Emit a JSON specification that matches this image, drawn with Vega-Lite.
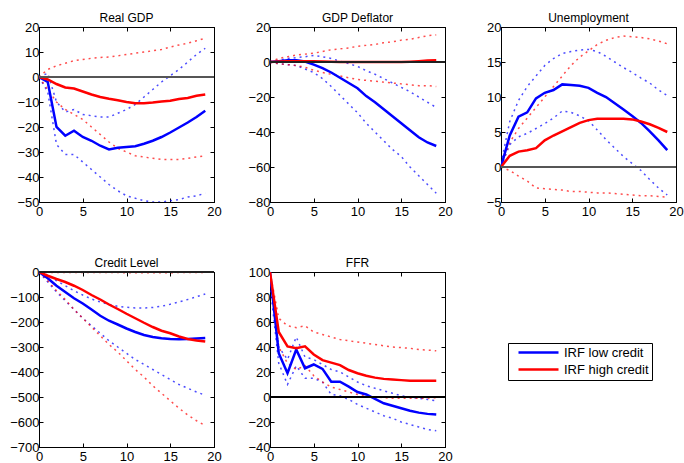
{
  "$schema": "https://vega.github.io/schema/vega-lite/v6.json",
  "background": "white",
  "padding": {"left": 9, "top": 11, "right": 5, "bottom": 0},
  "bounds": "flush",
  "columns": 3,
  "spacing": {"row": 70, "column": 56},
  "datasets": {
    "gdp": [
      {"h": 0, "IRF low credit": 0, "IRF high credit": 0, "low_lb": 0, "low_ub": 0, "high_lb": 0, "high_ub": 0},
      {"h": 1, "IRF low credit": -2, "IRF high credit": -1, "low_lb": -6, "low_ub": 1.5, "high_lb": -5, "high_ub": 3},
      {"h": 2, "IRF low credit": -20, "IRF high credit": -2.8, "low_lb": -27, "low_ub": -10, "high_lb": -10, "high_ub": 4.5},
      {"h": 3, "IRF low credit": -23.5, "IRF high credit": -4.2, "low_lb": -31, "low_ub": -14, "high_lb": -13, "high_ub": 5.5},
      {"h": 4, "IRF low credit": -21.5, "IRF high credit": -4.6, "low_lb": -31, "low_ub": -13, "high_lb": -15, "high_ub": 6.5},
      {"h": 5, "IRF low credit": -24, "IRF high credit": -5.8, "low_lb": -34, "low_ub": -15, "high_lb": -17, "high_ub": 7},
      {"h": 6, "IRF low credit": -25.5, "IRF high credit": -7, "low_lb": -37, "low_ub": -15.5, "high_lb": -20, "high_ub": 7.5},
      {"h": 7, "IRF low credit": -27.5, "IRF high credit": -8, "low_lb": -40, "low_ub": -16, "high_lb": -23, "high_ub": 7.8},
      {"h": 8, "IRF low credit": -29, "IRF high credit": -8.7, "low_lb": -43, "low_ub": -16, "high_lb": -26, "high_ub": 8},
      {"h": 9, "IRF low credit": -28.3, "IRF high credit": -9.3, "low_lb": -45.5, "low_ub": -14.5, "high_lb": -28.5, "high_ub": 8.5},
      {"h": 10, "IRF low credit": -28, "IRF high credit": -10, "low_lb": -47.5, "low_ub": -13, "high_lb": -30, "high_ub": 9},
      {"h": 11, "IRF low credit": -27.7, "IRF high credit": -10.5, "low_lb": -48.5, "low_ub": -11, "high_lb": -31.5, "high_ub": 9.5},
      {"h": 12, "IRF low credit": -26.7, "IRF high credit": -10.5, "low_lb": -49.5, "low_ub": -8, "high_lb": -32, "high_ub": 10},
      {"h": 13, "IRF low credit": -25.5, "IRF high credit": -10.2, "low_lb": -50, "low_ub": -5, "high_lb": -32.5, "high_ub": 10.5},
      {"h": 14, "IRF low credit": -24, "IRF high credit": -9.8, "low_lb": -50, "low_ub": -2, "high_lb": -33, "high_ub": 11},
      {"h": 15, "IRF low credit": -22.2, "IRF high credit": -9.5, "low_lb": -49.5, "low_ub": 0.5, "high_lb": -33, "high_ub": 12},
      {"h": 16, "IRF low credit": -20.2, "IRF high credit": -8.8, "low_lb": -49, "low_ub": 3, "high_lb": -33, "high_ub": 12.8},
      {"h": 17, "IRF low credit": -18.2, "IRF high credit": -8.4, "low_lb": -48, "low_ub": 6, "high_lb": -32.5, "high_ub": 13.5},
      {"h": 18, "IRF low credit": -16, "IRF high credit": -7.5, "low_lb": -47.5, "low_ub": 9, "high_lb": -32, "high_ub": 14.5},
      {"h": 19, "IRF low credit": -13.5, "IRF high credit": -7, "low_lb": -46.5, "low_ub": 11.5, "high_lb": -31.5, "high_ub": 15.5}
    ],
    "deflator": [
      {"h": 0, "IRF low credit": 0, "IRF high credit": 0, "low_lb": 0, "low_ub": 0, "high_lb": 0, "high_ub": 0},
      {"h": 1, "IRF low credit": 0.5, "IRF high credit": 0.3, "low_lb": -1, "low_ub": 1, "high_lb": -1, "high_ub": 2},
      {"h": 2, "IRF low credit": 1, "IRF high credit": 0.5, "low_lb": -1.5, "low_ub": 2, "high_lb": -1.5, "high_ub": 3},
      {"h": 3, "IRF low credit": 1, "IRF high credit": 0.5, "low_lb": -2, "low_ub": 2.5, "high_lb": -2, "high_ub": 4},
      {"h": 4, "IRF low credit": 0.3, "IRF high credit": 0.5, "low_lb": -4, "low_ub": 3, "high_lb": -3, "high_ub": 4.5},
      {"h": 5, "IRF low credit": -1.5, "IRF high credit": 0.5, "low_lb": -6, "low_ub": 3.8, "high_lb": -4.7, "high_ub": 5},
      {"h": 6, "IRF low credit": -3.5, "IRF high credit": 0.3, "low_lb": -9.5, "low_ub": 3, "high_lb": -6, "high_ub": 6},
      {"h": 7, "IRF low credit": -6, "IRF high credit": 0.2, "low_lb": -14, "low_ub": 2, "high_lb": -7, "high_ub": 7},
      {"h": 8, "IRF low credit": -9, "IRF high credit": 0, "low_lb": -19, "low_ub": 0.5, "high_lb": -8, "high_ub": 7.5},
      {"h": 9, "IRF low credit": -12, "IRF high credit": 0, "low_lb": -24, "low_ub": -1, "high_lb": -9, "high_ub": 8},
      {"h": 10, "IRF low credit": -15, "IRF high credit": 0, "low_lb": -29, "low_ub": -2.5, "high_lb": -10, "high_ub": 9},
      {"h": 11, "IRF low credit": -19.5, "IRF high credit": 0, "low_lb": -35, "low_ub": -5, "high_lb": -10.5, "high_ub": 9.5},
      {"h": 12, "IRF low credit": -23, "IRF high credit": 0, "low_lb": -40, "low_ub": -7, "high_lb": -11, "high_ub": 10},
      {"h": 13, "IRF low credit": -27, "IRF high credit": 0, "low_lb": -45, "low_ub": -9.5, "high_lb": -11.5, "high_ub": 11},
      {"h": 14, "IRF low credit": -31, "IRF high credit": 0, "low_lb": -50, "low_ub": -12, "high_lb": -12, "high_ub": 11.5},
      {"h": 15, "IRF low credit": -35, "IRF high credit": 0, "low_lb": -54, "low_ub": -14.5, "high_lb": -12.5, "high_ub": 12.5},
      {"h": 16, "IRF low credit": -39, "IRF high credit": 0.2, "low_lb": -60, "low_ub": -17, "high_lb": -13, "high_ub": 13},
      {"h": 17, "IRF low credit": -43, "IRF high credit": 0.5, "low_lb": -65, "low_ub": -20, "high_lb": -13.5, "high_ub": 14},
      {"h": 18, "IRF low credit": -46, "IRF high credit": 0.8, "low_lb": -70, "low_ub": -23, "high_lb": -13.5, "high_ub": 15},
      {"h": 19, "IRF low credit": -48, "IRF high credit": 1, "low_lb": -75, "low_ub": -26, "high_lb": -14, "high_ub": 15.5}
    ],
    "unemployment": [
      {"h": 0, "IRF low credit": 0, "IRF high credit": 0, "low_lb": 0, "low_ub": 0.5, "high_lb": 0, "high_ub": 0},
      {"h": 1, "IRF low credit": 4.5, "IRF high credit": 1.6, "low_lb": 3.2, "low_ub": 6.5, "high_lb": -0.5, "high_ub": 3.5},
      {"h": 2, "IRF low credit": 7.2, "IRF high credit": 2.2, "low_lb": 4.3, "low_ub": 9.5, "high_lb": -1.3, "high_ub": 5.5},
      {"h": 3, "IRF low credit": 7.8, "IRF high credit": 2.4, "low_lb": 4.8, "low_ub": 11.5, "high_lb": -2, "high_ub": 7},
      {"h": 4, "IRF low credit": 9.8, "IRF high credit": 2.7, "low_lb": 5.5, "low_ub": 13, "high_lb": -3, "high_ub": 8.5},
      {"h": 5, "IRF low credit": 10.6, "IRF high credit": 3.8, "low_lb": 6.2, "low_ub": 14.5, "high_lb": -3.1, "high_ub": 10},
      {"h": 6, "IRF low credit": 11, "IRF high credit": 4.5, "low_lb": 7, "low_ub": 15.5, "high_lb": -3.2, "high_ub": 11.5},
      {"h": 7, "IRF low credit": 11.8, "IRF high credit": 5.1, "low_lb": 8, "low_ub": 16.2, "high_lb": -3.3, "high_ub": 13},
      {"h": 8, "IRF low credit": 11.7, "IRF high credit": 5.7, "low_lb": 7.8, "low_ub": 16.5, "high_lb": -3.5, "high_ub": 14.5},
      {"h": 9, "IRF low credit": 11.6, "IRF high credit": 6.3, "low_lb": 7.3, "low_ub": 16.7, "high_lb": -3.5, "high_ub": 15.7},
      {"h": 10, "IRF low credit": 11.3, "IRF high credit": 6.7, "low_lb": 6.6, "low_ub": 16.8, "high_lb": -3.6, "high_ub": 16.6},
      {"h": 11, "IRF low credit": 10.6, "IRF high credit": 6.9, "low_lb": 5.3, "low_ub": 16.5, "high_lb": -3.7, "high_ub": 17.5},
      {"h": 12, "IRF low credit": 10, "IRF high credit": 6.9, "low_lb": 3.9, "low_ub": 15.8, "high_lb": -3.7, "high_ub": 18.1},
      {"h": 13, "IRF low credit": 9.1, "IRF high credit": 6.9, "low_lb": 2.7, "low_ub": 15, "high_lb": -3.8, "high_ub": 18.5},
      {"h": 14, "IRF low credit": 8.2, "IRF high credit": 6.9, "low_lb": 1.5, "low_ub": 14.2, "high_lb": -3.9, "high_ub": 18.7},
      {"h": 15, "IRF low credit": 7.3, "IRF high credit": 6.8, "low_lb": 0.5, "low_ub": 13.5, "high_lb": -4, "high_ub": 18.6},
      {"h": 16, "IRF low credit": 6.3, "IRF high credit": 6.5, "low_lb": -0.5, "low_ub": 12.7, "high_lb": -4.1, "high_ub": 18.5},
      {"h": 17, "IRF low credit": 5.1, "IRF high credit": 6.1, "low_lb": -1.8, "low_ub": 12, "high_lb": -4.1, "high_ub": 18.3},
      {"h": 18, "IRF low credit": 3.8, "IRF high credit": 5.6, "low_lb": -3, "low_ub": 11, "high_lb": -4.2, "high_ub": 18},
      {"h": 19, "IRF low credit": 2.4, "IRF high credit": 5, "low_lb": -4, "low_ub": 10.2, "high_lb": -4.3, "high_ub": 17.6}
    ],
    "credit": [
      {"h": 0, "IRF low credit": 0, "IRF high credit": 0, "low_lb": 0, "low_ub": 0, "high_lb": 0, "high_ub": 0},
      {"h": 1, "IRF low credit": -25, "IRF high credit": -15, "low_lb": -40, "low_ub": -15, "high_lb": -35, "high_ub": -2},
      {"h": 2, "IRF low credit": -55, "IRF high credit": -28, "low_lb": -80, "low_ub": -35, "high_lb": -75, "high_ub": -2},
      {"h": 3, "IRF low credit": -80, "IRF high credit": -40, "low_lb": -115, "low_ub": -55, "high_lb": -110, "high_ub": -2},
      {"h": 4, "IRF low credit": -105, "IRF high credit": -55, "low_lb": -150, "low_ub": -75, "high_lb": -150, "high_ub": -2},
      {"h": 5, "IRF low credit": -126, "IRF high credit": -72, "low_lb": -185, "low_ub": -92, "high_lb": -185, "high_ub": -2},
      {"h": 6, "IRF low credit": -150, "IRF high credit": -92, "low_lb": -215, "low_ub": -108, "high_lb": -220, "high_ub": -2},
      {"h": 7, "IRF low credit": -175, "IRF high credit": -110, "low_lb": -245, "low_ub": -120, "high_lb": -255, "high_ub": -2},
      {"h": 8, "IRF low credit": -195, "IRF high credit": -130, "low_lb": -275, "low_ub": -130, "high_lb": -290, "high_ub": -2},
      {"h": 9, "IRF low credit": -210, "IRF high credit": -148, "low_lb": -300, "low_ub": -137, "high_lb": -320, "high_ub": -2},
      {"h": 10, "IRF low credit": -226, "IRF high credit": -167, "low_lb": -325, "low_ub": -141, "high_lb": -355, "high_ub": -3},
      {"h": 11, "IRF low credit": -240, "IRF high credit": -185, "low_lb": -350, "low_ub": -144, "high_lb": -390, "high_ub": -3},
      {"h": 12, "IRF low credit": -252, "IRF high credit": -203, "low_lb": -370, "low_ub": -144, "high_lb": -420, "high_ub": -3},
      {"h": 13, "IRF low credit": -260, "IRF high credit": -220, "low_lb": -390, "low_ub": -142, "high_lb": -455, "high_ub": -3},
      {"h": 14, "IRF low credit": -265, "IRF high credit": -235, "low_lb": -410, "low_ub": -137, "high_lb": -485, "high_ub": -3},
      {"h": 15, "IRF low credit": -268, "IRF high credit": -245, "low_lb": -430, "low_ub": -129, "high_lb": -515, "high_ub": -3},
      {"h": 16, "IRF low credit": -269, "IRF high credit": -258, "low_lb": -450, "low_ub": -120, "high_lb": -545, "high_ub": -2},
      {"h": 17, "IRF low credit": -268, "IRF high credit": -268, "low_lb": -465, "low_ub": -110, "high_lb": -572, "high_ub": -2},
      {"h": 18, "IRF low credit": -266, "IRF high credit": -274, "low_lb": -480, "low_ub": -99, "high_lb": -595, "high_ub": -2},
      {"h": 19, "IRF low credit": -264, "IRF high credit": -278, "low_lb": -493, "low_ub": -88, "high_lb": -614, "high_ub": -2}
    ],
    "ffr": [
      {"h": 0, "IRF low credit": 100, "IRF high credit": 100, "low_lb": 90, "low_ub": 98, "high_lb": 100, "high_ub": 100},
      {"h": 1, "IRF low credit": 35, "IRF high credit": 52, "low_lb": 27, "low_ub": 40, "high_lb": 40, "high_ub": 63},
      {"h": 2, "IRF low credit": 19, "IRF high credit": 40.5, "low_lb": 10, "low_ub": 30, "high_lb": 27, "high_ub": 57},
      {"h": 3, "IRF low credit": 38, "IRF high credit": 39, "low_lb": 25, "low_ub": 48, "high_lb": 22, "high_ub": 55.5},
      {"h": 4, "IRF low credit": 23, "IRF high credit": 40.5, "low_lb": 15, "low_ub": 32, "high_lb": 25, "high_ub": 57},
      {"h": 5, "IRF low credit": 26, "IRF high credit": 34, "low_lb": 15, "low_ub": 30, "high_lb": 17, "high_ub": 52},
      {"h": 6, "IRF low credit": 22.5, "IRF high credit": 29.5, "low_lb": 12, "low_ub": 26, "high_lb": 12, "high_ub": 50},
      {"h": 7, "IRF low credit": 12.3, "IRF high credit": 27.5, "low_lb": 2, "low_ub": 22, "high_lb": 8, "high_ub": 48},
      {"h": 8, "IRF low credit": 12.3, "IRF high credit": 25.5, "low_lb": 1, "low_ub": 20, "high_lb": 6, "high_ub": 46},
      {"h": 9, "IRF low credit": 8.3, "IRF high credit": 21.6, "low_lb": -2, "low_ub": 16, "high_lb": 4, "high_ub": 45},
      {"h": 10, "IRF low credit": 4, "IRF high credit": 19, "low_lb": -6, "low_ub": 12, "high_lb": 2, "high_ub": 44},
      {"h": 11, "IRF low credit": 2, "IRF high credit": 17, "low_lb": -9, "low_ub": 9, "high_lb": 1, "high_ub": 43},
      {"h": 12, "IRF low credit": -1.5, "IRF high credit": 15.5, "low_lb": -12, "low_ub": 7, "high_lb": 0, "high_ub": 42},
      {"h": 13, "IRF low credit": -5, "IRF high credit": 14.5, "low_lb": -15, "low_ub": 5, "high_lb": -0.5, "high_ub": 41},
      {"h": 14, "IRF low credit": -7, "IRF high credit": 14, "low_lb": -17, "low_ub": 3, "high_lb": -1, "high_ub": 40},
      {"h": 15, "IRF low credit": -9, "IRF high credit": 13.5, "low_lb": -20, "low_ub": 1, "high_lb": -1, "high_ub": 39.5},
      {"h": 16, "IRF low credit": -11, "IRF high credit": 13, "low_lb": -22, "low_ub": 0, "high_lb": -1, "high_ub": 39},
      {"h": 17, "IRF low credit": -12.5, "IRF high credit": 13, "low_lb": -24, "low_ub": -1, "high_lb": -1, "high_ub": 38},
      {"h": 18, "IRF low credit": -13.5, "IRF high credit": 13, "low_lb": -26, "low_ub": -2, "high_lb": -1, "high_ub": 37.5},
      {"h": 19, "IRF low credit": -14, "IRF high credit": 13, "low_lb": -27, "low_ub": -3, "high_lb": -0.5, "high_ub": 37}
    ]
  },
  "concat": [
    {
      "title": "Real GDP",
      "data": {"name": "gdp"},
      "width": 175, "height": 175,
      "layer": [
        {
          "transform": [{"fold": ["low_lb", "low_ub", "high_lb", "high_ub"], "as": ["band", "v"]}],
          "mark": {"type": "line", "strokeWidth": 1.5, "strokeDash": [2, 4], "opacity": 0.7, "clip": true},
          "encoding": {
            "x": {"field": "h", "type": "quantitative", "scale": {"domain": [0, 20], "nice": false}, "axis": {"values": [0, 5, 10, 15, 20], "title": null}},
            "y": {"field": "v", "type": "quantitative", "scale": {"domain": [-50, 20], "nice": false}, "axis": {"values": [-50, -40, -30, -20, -10, 0, 10, 20], "title": null}},
            "stroke": {"field": "band", "type": "nominal", "scale": {"domain": ["low_lb", "low_ub", "high_lb", "high_ub"], "range": ["#0000ff", "#0000ff", "#ff0000", "#ff0000"]}, "legend": null}
          }
        },
        {
          "transform": [{"fold": ["IRF low credit", "IRF high credit"], "as": ["g", "v"]}],
          "mark": {"type": "line", "strokeWidth": 2.5, "clip": true},
          "encoding": {
            "x": {"field": "h", "type": "quantitative", "axis": null},
            "y": {"field": "v", "type": "quantitative", "axis": null},
            "color": {"field": "g", "type": "nominal", "scale": {"domain": ["IRF low credit", "IRF high credit"], "range": ["#0000ff", "#ff0000"]}, "legend": null}
          }
        },
        {
          "mark": {"type": "rule", "color": "#555555", "strokeWidth": 0.8},
          "encoding": {
            "x": {"datum": 0, "type": "quantitative", "axis": {"orient": "top", "labels": false, "values": [0, 5, 10, 15, 20], "title": null}},
            "x2": {"datum": 20},
            "y": {"datum": 0, "type": "quantitative", "axis": {"orient": "right", "labels": false, "values": [-50, -40, -30, -20, -10, 0, 10, 20], "title": null}}
          }
        }
      ],
      "resolve": {"axis": {"x": "independent", "y": "independent"}}
    },
    {
      "title": "GDP Deflator",
      "data": {"name": "deflator"},
      "width": 175, "height": 175,
      "layer": [
        {
          "transform": [{"fold": ["low_lb", "low_ub", "high_lb", "high_ub"], "as": ["band", "v"]}],
          "mark": {"type": "line", "strokeWidth": 1.5, "strokeDash": [2, 4], "opacity": 0.7, "clip": true},
          "encoding": {
            "x": {"field": "h", "type": "quantitative", "scale": {"domain": [0, 20], "nice": false}, "axis": {"values": [0, 5, 10, 15, 20], "title": null}},
            "y": {"field": "v", "type": "quantitative", "scale": {"domain": [-80, 20], "nice": false}, "axis": {"values": [-80, -60, -40, -20, 0, 20], "title": null}},
            "stroke": {"field": "band", "type": "nominal", "scale": {"domain": ["low_lb", "low_ub", "high_lb", "high_ub"], "range": ["#0000ff", "#0000ff", "#ff0000", "#ff0000"]}, "legend": null}
          }
        },
        {
          "transform": [{"fold": ["IRF low credit", "IRF high credit"], "as": ["g", "v"]}],
          "mark": {"type": "line", "strokeWidth": 2.5, "clip": true},
          "encoding": {
            "x": {"field": "h", "type": "quantitative", "axis": null},
            "y": {"field": "v", "type": "quantitative", "axis": null},
            "color": {"field": "g", "type": "nominal", "scale": {"domain": ["IRF low credit", "IRF high credit"], "range": ["#0000ff", "#ff0000"]}, "legend": null}
          }
        },
        {
          "mark": {"type": "rule", "color": "#222222", "strokeWidth": 0.8},
          "encoding": {
            "x": {"datum": 0, "type": "quantitative", "axis": {"orient": "top", "labels": false, "values": [0, 5, 10, 15, 20], "title": null}},
            "x2": {"datum": 20},
            "y": {"datum": 0, "type": "quantitative", "axis": {"orient": "right", "labels": false, "values": [-80, -60, -40, -20, 0, 20], "title": null}}
          }
        }
      ],
      "resolve": {"axis": {"x": "independent", "y": "independent"}}
    },
    {
      "title": "Unemployment",
      "data": {"name": "unemployment"},
      "width": 175, "height": 175,
      "layer": [
        {
          "transform": [{"fold": ["low_lb", "low_ub", "high_lb", "high_ub"], "as": ["band", "v"]}],
          "mark": {"type": "line", "strokeWidth": 1.5, "strokeDash": [2, 4], "opacity": 0.7, "clip": true},
          "encoding": {
            "x": {"field": "h", "type": "quantitative", "scale": {"domain": [0, 20], "nice": false}, "axis": {"values": [0, 5, 10, 15, 20], "title": null}},
            "y": {"field": "v", "type": "quantitative", "scale": {"domain": [-5, 20], "nice": false}, "axis": {"values": [-5, 0, 5, 10, 15, 20], "title": null}},
            "stroke": {"field": "band", "type": "nominal", "scale": {"domain": ["low_lb", "low_ub", "high_lb", "high_ub"], "range": ["#0000ff", "#0000ff", "#ff0000", "#ff0000"]}, "legend": null}
          }
        },
        {
          "transform": [{"fold": ["IRF low credit", "IRF high credit"], "as": ["g", "v"]}],
          "mark": {"type": "line", "strokeWidth": 2.5, "clip": true},
          "encoding": {
            "x": {"field": "h", "type": "quantitative", "axis": null},
            "y": {"field": "v", "type": "quantitative", "axis": null},
            "color": {"field": "g", "type": "nominal", "scale": {"domain": ["IRF low credit", "IRF high credit"], "range": ["#0000ff", "#ff0000"]}, "legend": null}
          }
        },
        {
          "mark": {"type": "rule", "color": "#555555", "strokeWidth": 0.8},
          "encoding": {
            "x": {"datum": 0, "type": "quantitative", "axis": {"orient": "top", "labels": false, "values": [0, 5, 10, 15, 20], "title": null}},
            "x2": {"datum": 20},
            "y": {"datum": 0, "type": "quantitative", "axis": {"orient": "right", "labels": false, "values": [-5, 0, 5, 10, 15, 20], "title": null}}
          }
        }
      ],
      "resolve": {"axis": {"x": "independent", "y": "independent"}}
    },
    {
      "title": "Credit Level",
      "data": {"name": "credit"},
      "width": 175, "height": 175,
      "layer": [
        {
          "transform": [{"fold": ["low_lb", "low_ub", "high_lb", "high_ub"], "as": ["band", "v"]}],
          "mark": {"type": "line", "strokeWidth": 1.5, "strokeDash": [2, 4], "opacity": 0.7, "clip": true},
          "encoding": {
            "x": {"field": "h", "type": "quantitative", "scale": {"domain": [0, 20], "nice": false}, "axis": {"values": [0, 5, 10, 15, 20], "title": null}},
            "y": {"field": "v", "type": "quantitative", "scale": {"domain": [-700, 0], "nice": false}, "axis": {"values": [-700, -600, -500, -400, -300, -200, -100, 0], "title": null}},
            "stroke": {"field": "band", "type": "nominal", "scale": {"domain": ["low_lb", "low_ub", "high_lb", "high_ub"], "range": ["#0000ff", "#0000ff", "#ff0000", "#ff0000"]}, "legend": null}
          }
        },
        {
          "transform": [{"fold": ["IRF low credit", "IRF high credit"], "as": ["g", "v"]}],
          "mark": {"type": "line", "strokeWidth": 2.5, "clip": true},
          "encoding": {
            "x": {"field": "h", "type": "quantitative", "axis": null},
            "y": {"field": "v", "type": "quantitative", "axis": null},
            "color": {"field": "g", "type": "nominal", "scale": {"domain": ["IRF low credit", "IRF high credit"], "range": ["#0000ff", "#ff0000"]}, "legend": null}
          }
        },
        {
          "mark": {"type": "rule", "color": "#222222", "strokeWidth": 0.8},
          "encoding": {
            "x": {"datum": 0, "type": "quantitative", "axis": {"orient": "top", "labels": false, "values": [0, 5, 10, 15, 20], "title": null}},
            "x2": {"datum": 20},
            "y": {"datum": 0, "type": "quantitative", "axis": {"orient": "right", "labels": false, "values": [-700, -600, -500, -400, -300, -200, -100, 0], "title": null}}
          }
        }
      ],
      "resolve": {"axis": {"x": "independent", "y": "independent"}}
    },
    {
      "title": "FFR",
      "data": {"name": "ffr"},
      "width": 175, "height": 175,
      "layer": [
        {
          "transform": [{"fold": ["low_lb", "low_ub", "high_lb", "high_ub"], "as": ["band", "v"]}],
          "mark": {"type": "line", "strokeWidth": 1.5, "strokeDash": [2, 4], "opacity": 0.7, "clip": true},
          "encoding": {
            "x": {"field": "h", "type": "quantitative", "scale": {"domain": [0, 20], "nice": false}, "axis": {"values": [0, 5, 10, 15, 20], "title": null}},
            "y": {"field": "v", "type": "quantitative", "scale": {"domain": [-40, 100], "nice": false}, "axis": {"values": [-40, -20, 0, 20, 40, 60, 80, 100], "title": null}},
            "stroke": {"field": "band", "type": "nominal", "scale": {"domain": ["low_lb", "low_ub", "high_lb", "high_ub"], "range": ["#0000ff", "#0000ff", "#ff0000", "#ff0000"]}, "legend": null}
          }
        },
        {
          "transform": [{"fold": ["IRF low credit", "IRF high credit"], "as": ["g", "v"]}],
          "mark": {"type": "line", "strokeWidth": 2.5, "clip": true},
          "encoding": {
            "x": {"field": "h", "type": "quantitative", "axis": null},
            "y": {"field": "v", "type": "quantitative", "axis": null},
            "color": {
              "field": "g", "type": "nominal",
              "scale": {"domain": ["IRF low credit", "IRF high credit"], "range": ["#0000ff", "#ff0000"]},
              "legend": {
                "orient": "none", "legendX": 238, "legendY": 71, "title": null,
                "symbolType": "M0.2,0L8.2,0", "symbolSize": 100, "symbolStrokeWidth": 2.5,
                "labelFontSize": 13, "labelColor": "black", "labelOffset": 40,
                "strokeColor": "black", "fillColor": "white", "padding": 3, "rowPadding": 3
              }
            }
          }
        },
        {
          "mark": {"type": "rule", "color": "black", "strokeWidth": 0.8},
          "encoding": {
            "x": {"datum": 0, "type": "quantitative", "axis": {"orient": "top", "labels": false, "values": [0, 5, 10, 15, 20], "title": null}},
            "x2": {"datum": 20},
            "y": {"datum": 0, "type": "quantitative", "axis": {"orient": "right", "labels": false, "values": [-40, -20, 0, 20, 40, 60, 80, 100], "title": null}}
          }
        }
      ],
      "resolve": {"axis": {"x": "independent", "y": "independent"}}
    }
  ],
  "resolve": {"scale": {"x": "independent", "y": "independent", "color": "independent", "stroke": "independent"}, "legend": {"color": "independent"}},
  "config": {
    "font": "Liberation Sans",
    "view": {"stroke": "black", "strokeWidth": 1},
    "axis": {
      "grid": false,
      "domainColor": "black",
      "tickColor": "black",
      "tickSize": -4,
      "labelColor": "black",
      "labelFontSize": 13,
      "labelFlush": false,
      "labelOverlap": false
    },
    "axisX": {"labelPadding": 7},
    "axisY": {"labelPadding": 4},
    "title": {"fontSize": 12, "fontWeight": "normal", "color": "black", "offset": -4, "frame": "group"}
  }
}
